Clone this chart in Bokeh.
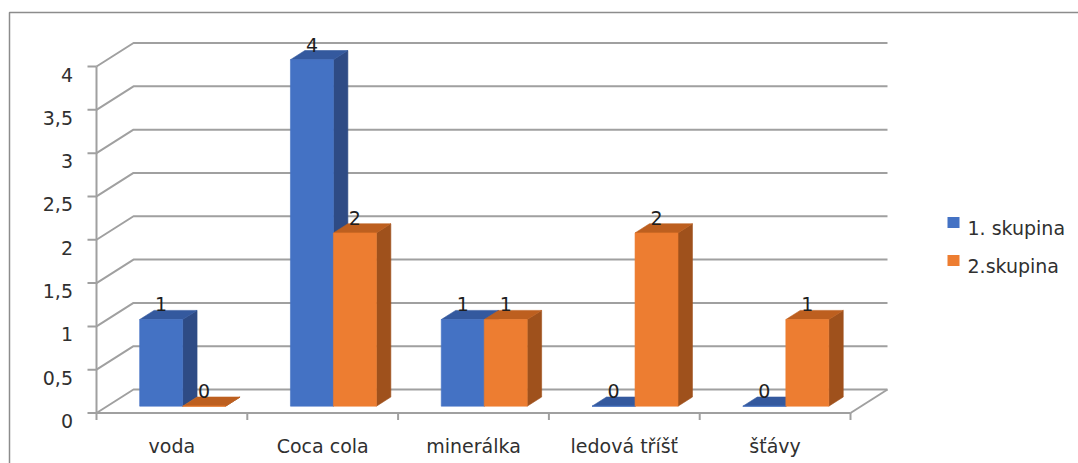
from bokeh.plotting import figure
from bokeh.models import Range1d
from bokeh.embed import file_html
from bokeh.resources import INLINE
from bokeh.core.properties import value

# ---- data -------------------------------------------------------------
categories = ["voda", "Coca cola", "minerálka", "ledová tříšť", "šťávy"]
series_names = ["1. skupina", "2.skupina"]
skupina1 = [1, 4, 1, 0, 0]
skupina2 = [0, 2, 1, 2, 1]
y_ticks = [0, 0.5, 1, 1.5, 2, 2.5, 3, 3.5, 4]
y_tick_labels = ["0", "0,5", "1", "1,5", "2", "2,5", "3", "3,5", "4"]

# ---- layout (pixels) --------------------------------------------------
W, H = 1078, 463
ORIGIN_X, ORIGIN_Y = 96.0, 412.5     # front-left-bottom corner of the box
CAT_PX = 150.8                       # width of one category on the front plane
UNIT_PX = 86.625                     # height of one value unit
DEPTH_X_PX, DEPTH_Y_PX = 37.0, 23.5  # offset of the back wall

# depth offset in data units
DX = DEPTH_X_PX / CAT_PX
DY = DEPTH_Y_PX / UNIT_PX

# bar geometry (fractions of category width / box depth)
BW = 0.285
GAP = (1 - 2 * BW) / 2
F0, F1 = 0.29, 0.68
DD = F1 - F0

FONT = value("DejaVu Sans")
FONT_SIZE = "19px"
TEXT_COLOR = "#303030"
GRID_COLOR = "#a0a0a0"

FACE = {
    0: dict(front="#4472C4", top="#34599E", side="#2E4B85"),
    1: dict(front="#ED7D31", top="#BD5F1F", side="#9F511C"),
}


def px_x(px):
    return (px - ORIGIN_X) / CAT_PX


def px_y(py):
    return (ORIGIN_Y - py) / UNIT_PX


n = len(categories)

p = figure(
    width=W, height=H,
    x_range=Range1d(px_x(0), px_x(W)),
    y_range=Range1d(px_y(H), px_y(0)),
    x_axis_type=None, y_axis_type=None,
    toolbar_location=None, output_backend="svg",
    min_border=0,
)
p.outline_line_color = None
p.background_fill_color = "white"
p.border_fill_color = "white"

# outer chart border (top and left edges)
p.line([px_x(9), px_x(9), px_x(W)], [px_y(H), px_y(12), px_y(12)],
       line_color="#8c8c8c", line_width=1.5)

# back wall gridlines with the side-wall diagonals
grid_xs = [[0, DX, n + DX] for _ in y_ticks]
grid_ys = [[v, v + DY, v + DY] for v in y_ticks]
p.multi_line(grid_xs, grid_ys, line_color=GRID_COLOR, line_width=2)

# floor right edge
p.line([n, n + DX], [0, DY], line_color=GRID_COLOR, line_width=2)

# front value axis + ticks
p.line([0, 0], [0, max(y_ticks)], line_color=GRID_COLOR, line_width=2)
p.multi_line([[px_x(ORIGIN_X - 9), 0] for _ in y_ticks],
             [[v, v] for v in y_ticks], line_color=GRID_COLOR, line_width=2)

# front category axis + ticks at category boundaries
p.line([0, n], [0, 0], line_color=GRID_COLOR, line_width=2)
p.multi_line([[i, i] for i in range(n + 1)],
             [[0, -7 / UNIT_PX] for _ in range(n + 1)],
             line_color=GRID_COLOR, line_width=2)

# value axis labels
p.text(x=[px_x(72.5)] * len(y_ticks), y=[v - 8 / UNIT_PX for v in y_ticks],
       text=y_tick_labels, text_align="right", text_baseline="alphabetic",
       text_font=FONT, text_font_size=FONT_SIZE, text_color=TEXT_COLOR)

# category labels
p.text(x=[i + 0.5 for i in range(n)], y=[-33.2 / UNIT_PX] * n,
       text=categories, text_align="center", text_baseline="alphabetic",
       text_font=FONT, text_font_size=FONT_SIZE, text_color=TEXT_COLOR)

# ---- 3D bars ----------------------------------------------------------
sides = {"xs": [], "ys": [], "c": []}
tops = {"xs": [], "ys": [], "c": []}
fronts = {"l": [], "r": [], "b": [], "t": [], "c": []}
lab = {"x": [], "y": [], "t": []}

for s, vals in enumerate([skupina1, skupina2]):
    for i, v in enumerate(vals):
        x0 = i + GAP + s * BW + F0 * DX
        x1 = x0 + BW
        yb = F0 * DY
        yt = yb + v
        ox, oy = DD * DX, DD * DY
        sides["xs"].append([x1, x1 + ox, x1 + ox, x1])
        sides["ys"].append([yb, yb + oy, yt + oy, yt])
        sides["c"].append(FACE[s]["side"])
        tops["xs"].append([x0, x1, x1 + ox, x0 + ox])
        tops["ys"].append([yt, yt, yt + oy, yt + oy])
        tops["c"].append(FACE[s]["top"])
        fronts["l"].append(x0)
        fronts["r"].append(x1)
        fronts["b"].append(yb)
        fronts["t"].append(yt)
        fronts["c"].append(FACE[s]["front"])
        lab["x"].append(x0 + BW / 2)
        lab["y"].append(yt + oy + 6 / UNIT_PX)
        lab["t"].append(str(v))

p.patches(sides["xs"], sides["ys"], fill_color=sides["c"],
          line_color=sides["c"], line_width=0.6)
p.patches(tops["xs"], tops["ys"], fill_color=tops["c"],
          line_color=tops["c"], line_width=0.6)
p.quad(left=fronts["l"], right=fronts["r"], bottom=fronts["b"], top=fronts["t"],
       fill_color=fronts["c"], line_color=fronts["c"], line_width=0.6)

# data labels
p.text(x=lab["x"], y=lab["y"], text=lab["t"], text_align="center",
       text_baseline="alphabetic", text_font=FONT, text_font_size=FONT_SIZE,
       text_color="#1e1e1e")

# ---- legend -----------------------------------------------------------
leg_y = [222, 260]
p.rect(x=[px_x(953)] * 2, y=[px_y(yy) for yy in leg_y], width=12, height=11,
       width_units="screen", height_units="screen",
       fill_color=[FACE[0]["front"], FACE[1]["front"]], line_color=None)
p.text(x=[px_x(967)] * 2, y=[px_y(yy + 5.5) for yy in leg_y], text=series_names,
       text_align="left", text_baseline="alphabetic", text_font=FONT,
       text_font_size=FONT_SIZE, text_color=TEXT_COLOR)

open("out.html", "w").write(file_html(p, INLINE))
